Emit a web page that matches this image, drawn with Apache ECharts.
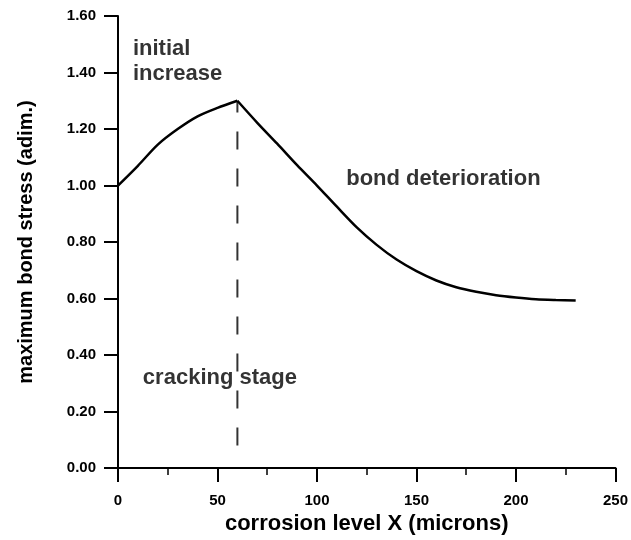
<!DOCTYPE html>
<html>
<head>
<meta charset="utf-8">
<script src="https://cdn.jsdelivr.net/npm/echarts@6/dist/echarts.min.js"></script>
<style>
  html, body { margin: 0; padding: 0; background: #fff; }
  #chart { width: 631px; height: 540px; }
</style>
</head>
<body>
<div id="chart"></div>
<script>
// Corrosion level (microns) and the normalised maximum bond stress.
const riseX = [0, 10, 20, 30, 40, 50, 60];
const riseY = [1.00, 1.07, 1.145, 1.20, 1.245, 1.275, 1.30];
const fallX = [60, 70, 80, 90, 100, 110, 120, 130, 140, 150, 160, 170, 180, 190, 200, 210, 220, 230];
const fallY = [1.30, 1.222, 1.148, 1.072, 1.00, 0.925, 0.852, 0.79, 0.738, 0.697, 0.664, 0.64, 0.624, 0.612, 0.604, 0.598, 0.595, 0.593];

// Onset of cracking, marked by a vertical dashed line.
const crackX = [60, 60];
const crackY = [0.08, 1.30];

// Text notes, anchored at data coordinates (left edge, vertical middle).
const noteText = ['initial\nincrease', 'bond deterioration', 'cracking stage'];
const noteX = [7.5, 114.7, 12.5];
const noteY = [1.438, 1.024, 0.319];

const xTicks = [0, 50, 100, 150, 200, 250];
const yTicks = [0, 0.2, 0.4, 0.6, 0.8, 1.0, 1.2, 1.4, 1.6];

const zip = (a, b) => a.map((v, i) => [v, b[i]]);

const FONT = 'Liberation Sans';
const INK = '#000';

const chart = echarts.init(document.getElementById('chart'), null, { renderer: 'canvas' });

chart.setOption({
  backgroundColor: '#fff',
  animation: false,
  grid: { left: 118, right: 14, top: 16, bottom: 70 },
  xAxis: {
    type: 'value',
    min: xTicks[0],
    max: xTicks[xTicks.length - 1],
    interval: xTicks[1] - xTicks[0],
    name: 'corrosion level X (microns)',
    nameLocation: 'middle',
    nameGap: 42,
    nameTextStyle: { fontFamily: FONT, fontWeight: 'bold', fontSize: 22, color: INK },
    axisLine: { show: true, onZero: false, lineStyle: { color: '#000', width: 2 } },
    axisTick: { show: true, inside: false, length: 14, lineStyle: { color: '#000', width: 2 } },
    minorTick: { show: true, splitNumber: 2, length: 7, lineStyle: { color: '#000', width: 1.5 } },
    splitLine: { show: false },
    axisLabel: {
      margin: 25,
      fontFamily: FONT, fontWeight: 'bold', fontSize: 15, color: INK,
      formatter: v => String(v)
    }
  },
  yAxis: {
    type: 'value',
    min: yTicks[0],
    max: yTicks[yTicks.length - 1],
    interval: 0.2,
    name: 'maximum bond stress (adim.)',
    nameLocation: 'middle',
    nameGap: 82,
    nameRotate: 90,
    nameTextStyle: { fontFamily: FONT, fontWeight: 'bold', fontSize: 20, color: INK },
    axisLine: { show: true, onZero: false, lineStyle: { color: '#000', width: 2 } },
    axisTick: { show: true, inside: false, length: 14, lineStyle: { color: '#000', width: 2 } },
    splitLine: { show: false },
    axisLabel: {
      margin: 22,
      fontFamily: FONT, fontWeight: 'bold', fontSize: 15, color: INK,
      formatter: v => v.toFixed(2)
    }
  },
  series: [
    {
      type: 'line',
      data: zip(riseX, riseY),
      smooth: 0.3,
      symbol: 'none',
      lineStyle: { color: '#000', width: 2.5 },
      z: 5
    },
    {
      type: 'line',
      data: zip(fallX, fallY),
      smooth: 0.3,
      symbol: 'none',
      lineStyle: { color: '#000', width: 2.5 },
      z: 5
    },
    {
      type: 'line',
      data: zip(crackX, crackY),
      symbol: 'none',
      lineStyle: { color: '#333', width: 2, type: [18, 19] },
      z: 4
    },
    {
      type: 'scatter',
      data: zip(noteX, noteY),
      symbolSize: 0,
      silent: true,
      label: {
        show: true,
        position: [0, 0],
        align: 'left',
        verticalAlign: 'middle',
        fontFamily: FONT,
        fontWeight: 'bold',
        fontSize: 22,
        lineHeight: 25,
        color: INK,
        formatter: p => noteText[p.dataIndex]
      },
      z: 6
    }
  ]
});
</script>
</body>
</html>
